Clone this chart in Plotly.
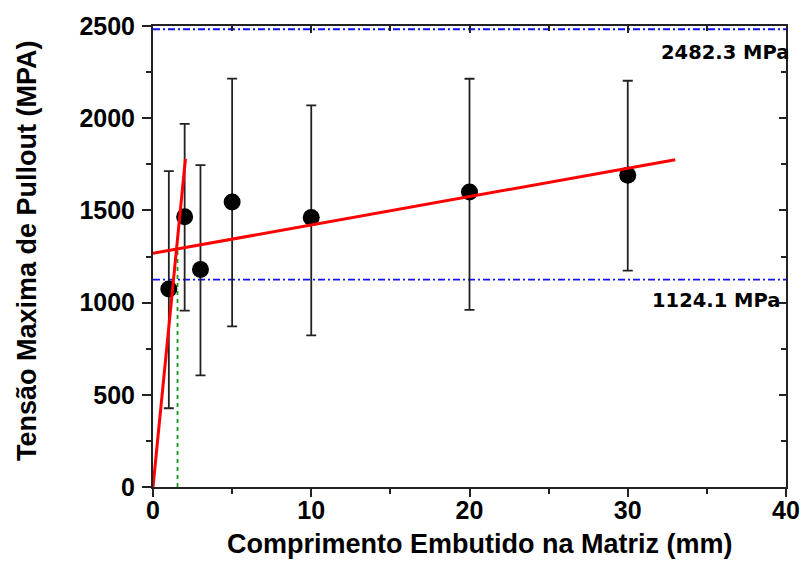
import plotly.graph_objects as go

# Embedded length (mm) and max pullout stress (MPa) with error bar limits
length_mm = [1, 2, 3, 5, 10, 20, 30]
stress_mean = [1074, 1465, 1179, 1546, 1461, 1600, 1690]
stress_upper = [1713, 1969, 1746, 2215, 2070, 2214, 2203]
stress_lower = [427, 957, 605, 871, 822, 961, 1173]

# Fitted lines: steep initial branch and shallow plateau branch
steep_x = [0, 2.05]
steep_y = [0, 1780]
plateau_x = [0, 33]
plateau_y = [1267, 1775]

# Critical length marker
critical_x = [1.55, 1.55]
critical_y = [0, 1290]

# Reference stress levels
ref_levels = [2482.3, 1124.1]
ref_labels = ["2482.3 MPa", "1124.1 MPa"]
ref_label_pos = [(39.55, 2355), (39.0, 1011)]

x_range = [0, 40]
y_range = [0, 2500]

x_title = "Comprimento Embutido na Matriz (mm)"
y_title = "Tensão Maxima de Pullout (MPA)"

err_plus = [u - m for u, m in zip(stress_upper, stress_mean)]
err_minus = [m - l for m, l in zip(stress_mean, stress_lower)]

fig = go.Figure()

for lvl in ref_levels:
    fig.add_trace(go.Scatter(
        x=x_range, y=[lvl, lvl], mode="lines",
        line=dict(color="#1010ff", width=1.8, dash="7px,3px,2px,3px"),
        showlegend=False, hoverinfo="skip"))

fig.add_trace(go.Scatter(
    x=critical_x, y=critical_y, mode="lines",
    line=dict(color="#119911", width=1.8, dash="4px,4px"),
    showlegend=False))

fig.add_trace(go.Scatter(
    x=length_mm, y=stress_mean, mode="markers",
    marker=dict(color="black", size=17),
    error_y=dict(type="data", symmetric=False, array=err_plus,
                 arrayminus=err_minus, color="#222222", thickness=1.8, width=5),
    showlegend=False))

fig.add_trace(go.Scatter(
    x=steep_x, y=steep_y, mode="lines",
    line=dict(color="#ff0000", width=3), showlegend=False))
fig.add_trace(go.Scatter(
    x=plateau_x, y=plateau_y, mode="lines",
    line=dict(color="#ff0000", width=3), showlegend=False))

# Invisible trace on the mirrored axes so they get drawn (inside ticks)
fig.add_trace(go.Scatter(
    x=[None], y=[None], xaxis="x2", yaxis="y2", mode="markers",
    showlegend=False, hoverinfo="skip"))

for (ax, ay), txt in zip(ref_label_pos, ref_labels):
    fig.add_annotation(x=ax, y=ay, xref="x", yref="y", text=f"<b>{txt}</b>",
                       showarrow=False, xanchor="right", yanchor="middle",
                       xshift=12,
                       font=dict(family="DejaVu Sans", size=19.5,
                                 color="black"))

tick_font = dict(family="Liberation Sans, Arial", size=25, color="black")
title_font = dict(family="Liberation Sans, Arial", size=27, color="black")

# Axis titles placed as paper annotations
fig.add_annotation(x=0.516, y=-0.123, xref="paper", yref="paper",
                   text=f"<b>{x_title}</b>", showarrow=False,
                   xanchor="center", yanchor="middle", font=title_font)
fig.add_annotation(x=-0.199, y=0.512, xref="paper", yref="paper",
                   text=f"<b>{y_title}</b>", showarrow=False, textangle=-90,
                   xanchor="center", yanchor="middle", font=title_font)

fig.update_layout(
    width=812, height=574,
    margin=dict(l=153, r=16, t=24, b=87),
    plot_bgcolor="white", paper_bgcolor="white",
    xaxis=dict(
        range=x_range, dtick=10, tick0=0, ticks="outside", ticklen=8,
        tickwidth=2, tickcolor="#222", showline=True, linewidth=2,
        linecolor="#222", showgrid=False, zeroline=False,
        tickfont=tick_font, tickprefix="<b>", ticksuffix="</b>",
        ticklabelstandoff=-8,
        minor=dict(dtick=5, ticks="outside", ticklen=5, tickwidth=2,
                   tickcolor="#222", showgrid=False),
    ),
    yaxis=dict(
        range=y_range, dtick=500, tick0=0, ticks="outside", ticklen=9,
        tickwidth=2, tickcolor="#222", showline=True, linewidth=2,
        linecolor="#222", showgrid=False, zeroline=False,
        tickfont=tick_font, tickprefix="<b>", ticksuffix="</b>",
        ticklabelstandoff=2,
        minor=dict(dtick=250, ticks="outside", ticklen=5, tickwidth=2,
                   tickcolor="#222", showgrid=False),
    ),
    xaxis2=dict(
        overlaying="x", side="top", range=x_range, dtick=10, tick0=0,
        ticks="inside", ticklen=7, tickwidth=2, tickcolor="#222",
        showline=True, linewidth=2, linecolor="#222", showgrid=False,
        zeroline=False, showticklabels=False,
        minor=dict(dtick=5, ticks="inside", ticklen=5, tickwidth=2,
                   tickcolor="#222", showgrid=False),
    ),
    yaxis2=dict(
        overlaying="y", side="right", range=y_range, dtick=500, tick0=0,
        ticks="inside", ticklen=7, tickwidth=2, tickcolor="#222",
        showline=True, linewidth=2, linecolor="#222", showgrid=False,
        zeroline=False, showticklabels=False,
        minor=dict(dtick=250, ticks="inside", ticklen=5, tickwidth=2,
                   tickcolor="#222", showgrid=False),
    ),
)

fig.write_html("out.html")
